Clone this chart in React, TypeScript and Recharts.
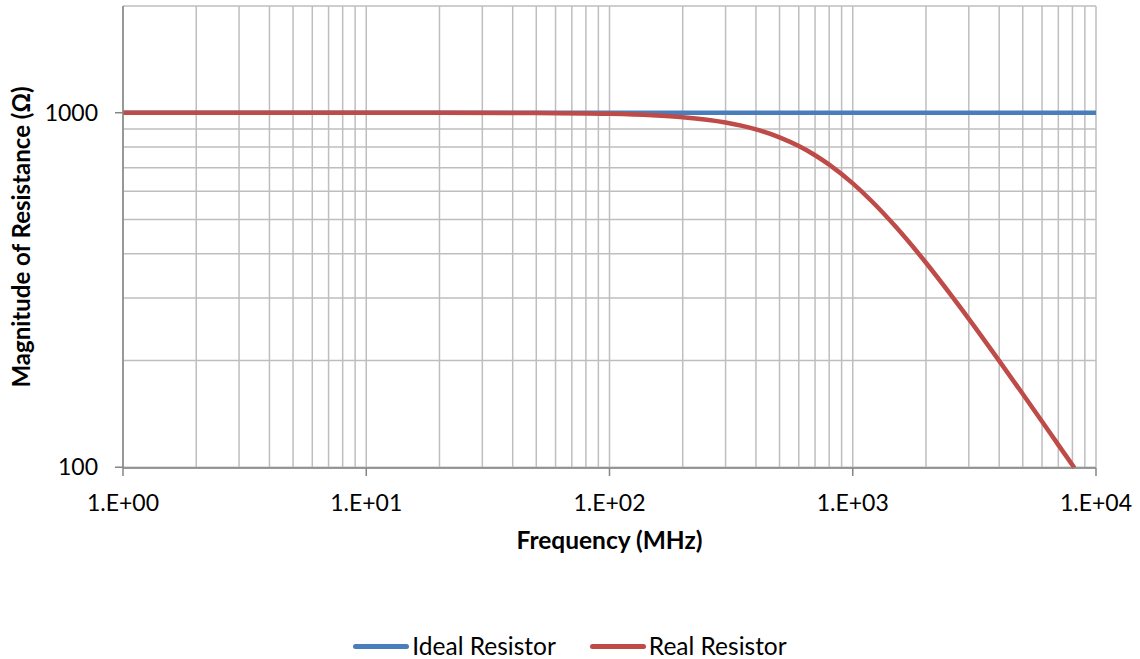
import React from 'react'
import { LineChart, Line, XAxis, YAxis, CartesianGrid, Legend, Label } from 'recharts'

// frequency in MHz, magnitude in ohms
const freqs = [1, 2, 5, 10, 20, 50, 100, 150, 200, 300, 400, 500, 600, 700, 800, 1000, 1200, 1500, 2000, 2500, 3000, 4000, 5000, 6000, 7000, 8000, 8150, 10000]
const idealOhms = [1000, 1000, 1000, 1000, 1000, 1000, 1000, 1000, 1000, 1000, 1000, 1000, 1000, 1000, 1000, 1000, 1000, 1000, 1000, 1000, 1000, 1000, 1000, 1000, 1000, 1000, 1000, 1000]
const realOhms = [1000, 1000, 1000, 999.9, 999.7, 998.1, 992.6, 983.5, 971.2, 938.4, 897.7, 852.4, 805.3, 758.6, 713.6, 631.8, 561.8, 477.4, 377.4, 309.9, 262.2, 199.6, 160.9, 134.6, 115.6, 101.4, 99.5, null]

const xGridTicks = [1, 2, 3, 4, 5, 6, 7, 8, 9, 10, 20, 30, 40, 50, 60, 70, 80, 90, 100, 200, 300, 400, 500, 600, 700, 800, 900, 1000, 2000, 3000, 4000, 5000, 6000, 7000, 8000, 9000, 10000]
const xLabels: Record<number, string> = { 1: '1.E+00', 10: '1.E+01', 100: '1.E+02', 1000: '1.E+03', 10000: '1.E+04' }
const yGridTicks = [100, 200, 300, 400, 500, 600, 700, 800, 900, 1000, 2000]
const yLabels: Record<number, string> = { 100: '100', 1000: '1000' }

const data = freqs.map((f, i) => ({ f, ideal: idealOhms[i], real: realOhms[i] }))

const FONT = 'Lato, sans-serif'

const XTick = (props: any) => {
  const { x, y, payload } = props
  const label = xLabels[payload.value]
  if (!label) return <g />
  return (
    <g>
      <line x1={x} x2={x} y1={y} y2={y + 8} stroke="#868686" strokeWidth={1.5} />
      <text x={x} y={y + 43} textAnchor="middle" fontFamily={FONT} fontSize={23} fill="#000">
        {label}
      </text>
    </g>
  )
}

const YTick = (props: any) => {
  const { x, y, payload } = props
  const label = yLabels[payload.value]
  if (!label) return <g />
  return (
    <g>
      <line x1={x - 8} x2={x} y1={y} y2={y} stroke="#868686" strokeWidth={1.5} />
      <text x={x - 25} y={y + 8} textAnchor="end" fontFamily={FONT} fontSize={23} fill="#000">
        {label}
      </text>
    </g>
  )
}

const LegendContent = () => (
  <div style={{ display: 'flex', justifyContent: 'center', alignItems: 'center', height: 20, lineHeight: '20px', paddingTop: 37, fontFamily: FONT, fontSize: 24.5, color: '#000' }}>
    <span style={{ display: 'inline-block', width: 56, height: 5, background: '#4a7ebb', borderRadius: 3, marginRight: 3 }} />
    <span style={{ marginRight: 34 }}>Ideal Resistor</span>
    <span style={{ display: 'inline-block', width: 56, height: 5, background: '#be4b48', borderRadius: 3, marginRight: 3 }} />
    <span>Real Resistor</span>
  </div>
)

export default function App() {
  return (
    <div style={{ position: 'absolute', left: 0, top: 0, background: '#fff' }}>
      <LineChart width={1140} height={659} data={data} margin={{ top: 6, right: 44, bottom: 0, left: 0 }}>
        <CartesianGrid stroke="#bebebe" strokeWidth={1.5} />
        <XAxis
          dataKey="f"
          type="number"
          scale="log"
          domain={[1, 10000]}
          ticks={xGridTicks}
          interval={0}
          tick={<XTick />}
          tickLine={false}
          tickSize={0}
          tickMargin={0}
          height={131}
          stroke="#868686"
          strokeWidth={1.5}
        >
          <Label value="Frequency (MHz)" position="insideTop" offset={64} style={{ fontFamily: FONT, fontSize: 24.5, fontWeight: 700, fill: '#000' }} />
        </XAxis>
        <YAxis
          type="number"
          scale="log"
          domain={[100, 2000]}
          ticks={yGridTicks}
          interval={0}
          tick={<YTick />}
          tickLine={false}
          tickSize={0}
          tickMargin={0}
          width={123}
          stroke="#868686"
          strokeWidth={1.5}
        >
          <Label value="Magnitude of Resistance (Ω)" angle={-90} position="insideLeft" offset={21} style={{ textAnchor: 'middle', fontFamily: FONT, fontSize: 24, fontWeight: 700, fill: '#000' }} />
        </YAxis>
        <Legend verticalAlign="bottom" height={60} content={<LegendContent />} wrapperStyle={{ left: 0, width: 1140 }} />
        <Line dataKey="ideal" name="Ideal Resistor" stroke="#4a7ebb" strokeWidth={4.5} dot={false} type="monotone" isAnimationActive={false} />
        <Line dataKey="real" name="Real Resistor" stroke="#be4b48" strokeWidth={4.5} dot={false} type="monotone" isAnimationActive={false} />
      </LineChart>
    </div>
  )
}
